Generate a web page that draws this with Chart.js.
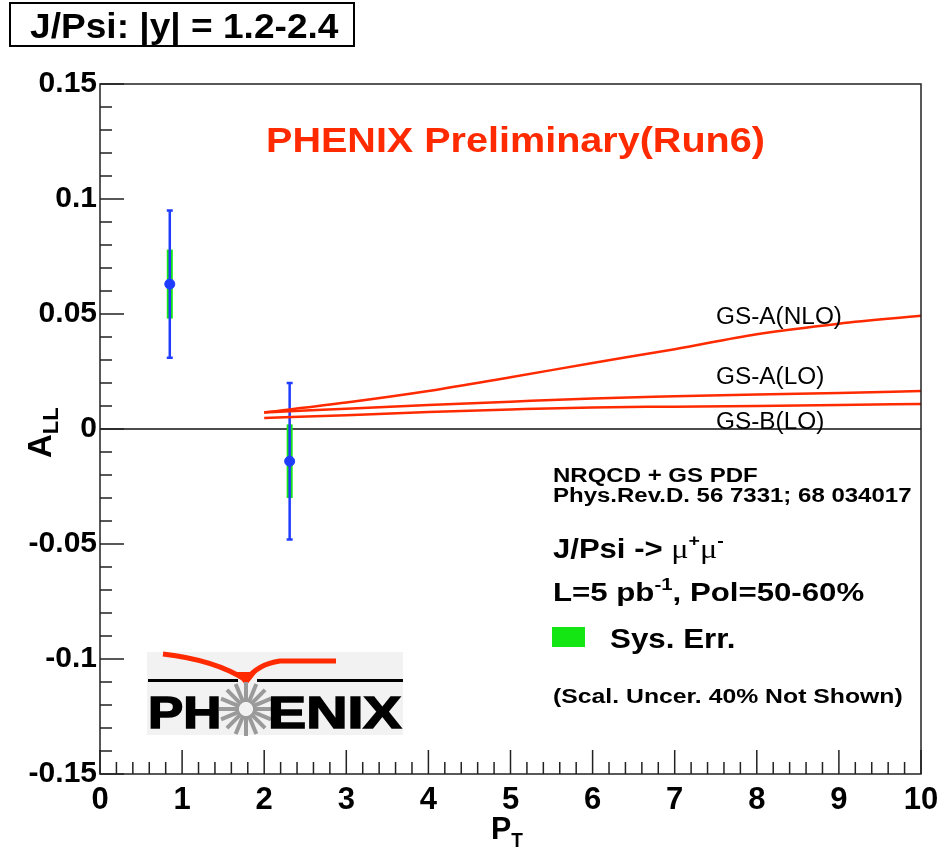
<!DOCTYPE html>
<html>
<head>
<meta charset="utf-8">
<title>J/Psi A_LL vs pT</title>
<script src="https://cdn.jsdelivr.net/npm/chart.js@4.4.1/dist/chart.umd.min.js"></script>
<style>
  html, body { margin: 0; padding: 0; background: #fff; }
  canvas { display: block; }
</style>
</head>
<body>
<canvas id="allChart" width="943" height="848"></canvas>
<script>
// Measured A_LL points (|y| = 1.2-2.4)
const ptPoints = [0.85, 2.31];
const allPoints = [0.063, -0.014];
const statErr = [0.032, 0.034];
const sysErr = [0.015, 0.016];

// NRQCD + GS PDF predictions
const ptCurve = [2, 3, 4, 5, 6, 7, 8, 9, 10];
const gsaNlo = [0.0072, 0.0115, 0.0165, 0.0225, 0.0287, 0.0347, 0.0412, 0.0458, 0.0492];
const gsaLo = [0.0072, 0.0088, 0.0104, 0.0119, 0.0133, 0.0142, 0.0150, 0.0157, 0.0165];
const gsbLo = [0.0048, 0.0060, 0.0074, 0.0085, 0.0094, 0.0097, 0.0100, 0.0104, 0.0109];
const curveNames = ["GS-A(NLO)", "GS-A(LO)", "GS-B(LO)"];

// Axis ticks
const xTickValues = [0, 1, 2, 3, 4, 5, 6, 7, 8, 9, 10];
const xTickLabels = ["0", "1", "2", "3", "4", "5", "6", "7", "8", "9", "10"];
const yTickValues = [-0.15, -0.1, -0.05, 0, 0.05, 0.1, 0.15];
const yTickLabels = ["-0.15", "-0.1", "-0.05", "0", "0.05", "0.1", "0.15"];

const SANS = '"Liberation Sans", Arial, Helvetica, sans-serif';
const SERIF = '"Liberation Serif", "Times New Roman", serif';
const RED = "#ff2a00";
const BLUE = "#1f3cff";
const GREEN = "#14e614";

// draw text squeezed/stretched horizontally, returns drawn width
function stretchText(ctx, text, x, y, font, sx, color) {
  ctx.save();
  ctx.font = font;
  ctx.fillStyle = color || "#000";
  ctx.textAlign = "left";
  ctx.textBaseline = "alphabetic";
  ctx.translate(x, y);
  ctx.scale(sx, 1);
  ctx.fillText(text, 0, 0);
  const w = ctx.measureText(text).width * sx;
  ctx.restore();
  return w;
}

// runs of text with their own font and vertical shift
function drawRuns(ctx, runs, x, y, sx) {
  let cx = x;
  runs.forEach((r) => {
    cx += stretchText(ctx, r.text, cx, y + (r.dy || 0), r.font, sx, r.color);
  });
}

function drawLogo(ctx) {
  ctx.save();
  ctx.fillStyle = "#f2f2f2";
  ctx.fillRect(147, 652, 256, 83);

  // red swoosh over the O
  ctx.strokeStyle = RED;
  ctx.lineWidth = 5;
  ctx.beginPath();
  ctx.moveTo(163, 654);
  ctx.quadraticCurveTo(215, 660, 246, 680);
  ctx.quadraticCurveTo(258, 664, 280, 661);
  ctx.lineTo(336, 661);
  ctx.stroke();
  ctx.fillStyle = RED;
  ctx.beginPath();
  ctx.moveTo(235, 672);
  ctx.lineTo(257, 672);
  ctx.lineTo(246, 686);
  ctx.closePath();
  ctx.fill();

  // black rule under the swoosh
  ctx.fillStyle = "#000";
  ctx.fillRect(148, 679, 90, 3);
  ctx.fillRect(257, 679, 146, 3);

  // grey starburst standing in for the O
  ctx.strokeStyle = "#9a9a9a";
  ctx.lineWidth = 4;
  for (let i = 0; i < 16; i++) {
    const a = (i * Math.PI) / 8;
    ctx.beginPath();
    ctx.moveTo(246 + 7 * Math.cos(a), 709 + 7 * Math.sin(a));
    ctx.lineTo(246 + 27 * Math.cos(a), 709 + 27 * Math.sin(a));
    ctx.stroke();
  }
  ctx.restore();

  // heavy block letters
  ctx.save();
  ctx.strokeStyle = "#000";
  ctx.lineWidth = 1.5;
  ctx.font = "bold 44px " + SANS;
  ctx.translate(148, 728);
  ctx.scale(1.2, 1);
  ctx.fillText("PH", 0, 0);
  ctx.strokeText("PH", 0, 0);
  ctx.restore();
  ctx.save();
  ctx.strokeStyle = "#000";
  ctx.lineWidth = 1.5;
  ctx.font = "bold 44px " + SANS;
  ctx.translate(268, 728);
  ctx.scale(1.3, 1);
  ctx.fillText("ENIX", 0, 0);
  ctx.strokeText("ENIX", 0, 0);
  ctx.restore();
}

// zero line and the error bars (sys box under stat bar)
const errorBarPlugin = {
  id: "errorBars",
  beforeDatasetsDraw(chart) {
    const { ctx, chartArea } = chart;
    const x = chart.scales.x;
    const y = chart.scales.y;
    ctx.save();
    const y0 = y.getPixelForValue(0);
    ctx.strokeStyle = "#111";
    ctx.lineWidth = 1.5;
    ctx.beginPath();
    ctx.moveTo(chartArea.left, y0);
    ctx.lineTo(chartArea.right, y0);
    ctx.stroke();

    ptPoints.forEach((pt, i) => {
      const px = x.getPixelForValue(pt);
      const sTop = y.getPixelForValue(allPoints[i] + sysErr[i]);
      const sBot = y.getPixelForValue(allPoints[i] - sysErr[i]);
      ctx.fillStyle = GREEN;
      ctx.fillRect(px - 3, sTop, 6, sBot - sTop);

      const eTop = y.getPixelForValue(allPoints[i] + statErr[i]);
      const eBot = y.getPixelForValue(allPoints[i] - statErr[i]);
      ctx.strokeStyle = BLUE;
      ctx.lineWidth = 2.5;
      ctx.beginPath();
      ctx.moveTo(px, eTop);
      ctx.lineTo(px, eBot);
      ctx.moveTo(px - 3, eTop);
      ctx.lineTo(px + 3, eTop);
      ctx.moveTo(px - 3, eBot);
      ctx.lineTo(px + 3, eBot);
      ctx.stroke();
    });
    ctx.restore();
  },
};

// frame, inward ticks and all the text around the plot
const decorPlugin = {
  id: "decor",
  afterDraw(chart) {
    const { ctx, chartArea } = chart;
    const x = chart.scales.x;
    const y = chart.scales.y;
    const { left, right, top, bottom } = chartArea;

    ctx.save();
    ctx.strokeStyle = "#222";
    ctx.lineWidth = 1.5;
    ctx.strokeRect(left, top, right - left, bottom - top);

    ctx.beginPath();
    for (let i = 0; i <= 50; i++) {
      const px = x.getPixelForValue(i * 0.2);
      const len = i % 5 === 0 ? 24 : 12;
      ctx.moveTo(px, bottom);
      ctx.lineTo(px, bottom - len);
    }
    for (let i = 0; i <= 30; i++) {
      const v = -0.15 + i * 0.01;
      const py = y.getPixelForValue(v);
      const len = i % 5 === 0 ? 24 : 12;
      ctx.moveTo(left, py);
      ctx.lineTo(left + len, py);
    }
    ctx.stroke();
    ctx.restore();

    // header box
    ctx.save();
    ctx.fillStyle = "#fff";
    ctx.fillRect(10, 3, 344, 43);
    ctx.strokeStyle = "#000";
    ctx.lineWidth = 2;
    ctx.strokeRect(10, 3, 344, 43);
    ctx.restore();
    stretchText(ctx, "J/Psi: |y| = 1.2-2.4", 30, 38, "bold 35px " + SANS, 1.06);

    stretchText(ctx, "PHENIX Preliminary(Run6)", 266, 152, "bold 35px " + SANS, 1.13, RED);

    // curve labels
    const lblFont = "23px " + SANS;
    stretchText(ctx, curveNames[0], 716, 324, lblFont, 1.06);
    stretchText(ctx, curveNames[1], 716, 384, lblFont, 1.06);
    stretchText(ctx, curveNames[2], 716, 429, lblFont, 1.06);

    // legend block
    stretchText(ctx, "NRQCD + GS PDF", 553, 482, "bold 20px " + SANS, 1.2);
    stretchText(ctx, "Phys.Rev.D. 56 7331; 68 034017", 553, 502, "bold 20px " + SANS, 1.2);
    drawRuns(ctx, [
      { text: "J/Psi -> ", font: "bold 27px " + SANS },
      { text: "\u03bc", font: "28px " + SERIF },
      { text: "+", font: "bold 17px " + SANS, dy: -12 },
      { text: "\u03bc", font: "28px " + SERIF },
      { text: "-", font: "bold 17px " + SANS, dy: -12 },
    ], 553, 558, 1.15);
    drawRuns(ctx, [
      { text: "L=5 pb", font: "bold 26px " + SANS },
      { text: "-1", font: "bold 17px " + SANS, dy: -11 },
      { text: ", Pol=50-60%", font: "bold 26px " + SANS },
    ], 553, 601, 1.2);
    ctx.save();
    ctx.fillStyle = GREEN;
    ctx.fillRect(552, 627, 33, 20);
    ctx.restore();
    stretchText(ctx, "Sys. Err.", 610, 648, "bold 27px " + SANS, 1.16);
    stretchText(ctx, "(Scal. Uncer. 40% Not Shown)", 553, 703, "bold 21px " + SANS, 1.18);

    drawLogo(ctx);

    // axis titles
    ctx.save();
    ctx.translate(51, 458);
    ctx.rotate(-Math.PI / 2);
    ctx.fillStyle = "#000";
    ctx.font = "bold 33px " + SANS;
    ctx.fillText("A", 0, 0);
    const aw = ctx.measureText("A").width;
    ctx.font = "bold 22px " + SANS;
    ctx.fillText("LL", aw, 7);
    ctx.restore();

    const pw = stretchText(ctx, "P", 491, 839, "bold 32px " + SANS, 0.95);
    stretchText(ctx, "T", 491 + pw, 847, "bold 20px " + SANS, 0.95);
  },
};

const curveStyle = {
  type: "line",
  borderColor: RED,
  borderWidth: 2.5,
  pointRadius: 0,
  fill: false,
  cubicInterpolationMode: "monotone",
};

const ctx = document.getElementById("allChart").getContext("2d");

new Chart(ctx, {
  type: "scatter",
  data: {
    datasets: [
      {
        label: curveNames[0],
        data: ptCurve.map((p, i) => ({ x: p, y: gsaNlo[i] })),
        ...curveStyle,
      },
      {
        label: curveNames[1],
        data: ptCurve.map((p, i) => ({ x: p, y: gsaLo[i] })),
        ...curveStyle,
      },
      {
        label: curveNames[2],
        data: ptCurve.map((p, i) => ({ x: p, y: gsbLo[i] })),
        ...curveStyle,
      },
      {
        label: "A_LL",
        data: ptPoints.map((p, i) => ({ x: p, y: allPoints[i] })),
        backgroundColor: BLUE,
        borderColor: BLUE,
        pointRadius: 5,
        showLine: false,
      },
    ],
  },
  options: {
    responsive: false,
    animation: false,
    layout: { padding: { left: 0, top: 84, right: 22, bottom: 0 } },
    plugins: {
      legend: { display: false },
      tooltip: { enabled: false },
    },
    scales: {
      x: {
        type: "linear",
        min: 0,
        max: 10,
        afterBuildTicks: (scale) => {
          scale.ticks = xTickValues.map((v) => ({ value: v }));
        },
        afterFit: (scale) => {
          scale.height = 74;
        },
        ticks: {
          callback: (value, index) => xTickLabels[index],
          font: { family: SANS, size: 31, weight: "bold" },
          color: "#000",
          padding: 0,
          maxRotation: 0,
          autoSkip: false,
        },
        grid: { display: false },
        border: { display: false },
      },
      y: {
        type: "linear",
        min: -0.15,
        max: 0.15,
        afterBuildTicks: (scale) => {
          scale.ticks = yTickValues.map((v) => ({ value: v }));
        },
        afterFit: (scale) => {
          scale.width = 100;
        },
        ticks: {
          callback: (value, index) => yTickLabels[index],
          font: { family: SANS, size: 30, weight: "bold" },
          color: "#000",
          padding: -5,
          autoSkip: false,
        },
        grid: { display: false },
        border: { display: false },
      },
    },
  },
  plugins: [errorBarPlugin, decorPlugin],
});
</script>
</body>
</html>
